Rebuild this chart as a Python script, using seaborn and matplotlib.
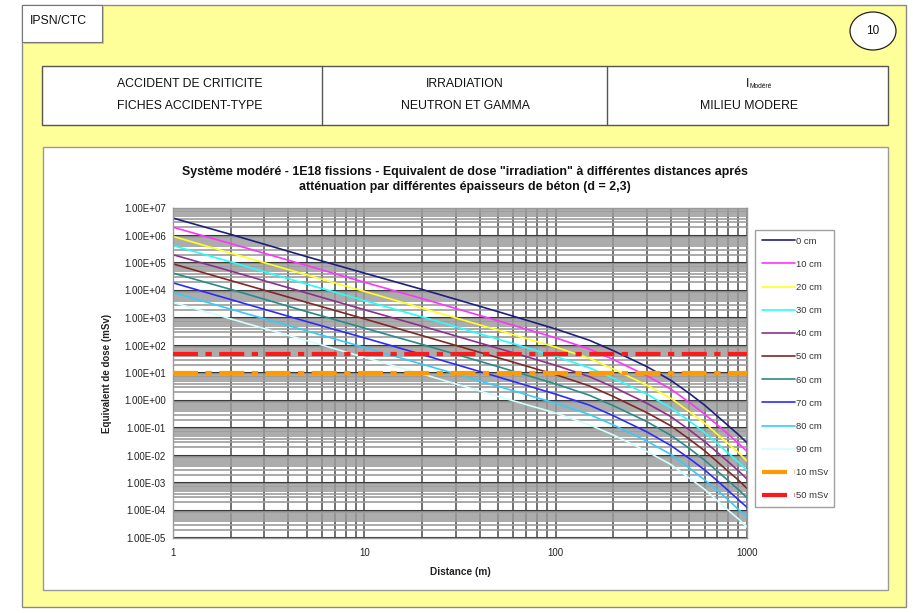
import numpy as np
import pandas as pd
import matplotlib
matplotlib.use("Agg")
import matplotlib.pyplot as plt
from matplotlib.patches import Rectangle, Ellipse
from matplotlib.ticker import LogLocator, FuncFormatter, NullFormatter
import seaborn as sns

# ---- data -----------------------------------------------------------------
distances = [1, 2, 5, 10, 20, 50, 100, 150, 200, 300, 400, 500, 600, 700, 800, 900, 1000]

dose_0cm = [4.3e6, 1.1e6, 1.7e5, 4.3e4, 1.1e4, 1.7e3, 4.0e2, 1.55e2, 6.5e1, 1.7e1, 5.4, 1.8,
            0.68, 0.27, 0.12, 0.058, 0.029]
dose_10cm = [2.0e6, 5.1e5, 8.1e4, 2.0e4, 5.1e3, 7.9e2, 1.9e2, 7.4e1, 3.1e1, 7.9, 2.6, 0.85,
             0.32, 0.13, 0.058, 0.028, 0.014]
dose_20cm = [9.3e5, 2.3e5, 3.7e4, 9.3e3, 2.3e3, 3.6e2, 8.7e1, 3.4e1, 1.4e1, 3.6, 1.2, 0.39,
             0.15, 0.059, 0.026, 0.013, 0.0063]
dose_30cm = [4.3e5, 1.1e5, 1.7e4, 4.3e3, 1.1e3, 1.7e2, 4.0e1, 1.55e1, 6.5, 1.7, 0.54, 0.18,
             0.068, 0.027, 0.012, 0.0058, 0.0029]
dose_40cm = [2.0e5, 5.1e4, 8.1e3, 2.0e3, 5.1e2, 7.9e1, 1.9e1, 7.4, 3.1, 0.79, 0.26, 0.085,
             0.032, 0.013, 0.0058, 0.0028, 0.0014]
dose_50cm = [9.3e4, 2.3e4, 3.7e3, 9.3e2, 2.3e2, 3.6e1, 8.7, 3.4, 1.4, 0.36, 0.12, 0.039,
             0.015, 0.0059, 0.0026, 0.0013, 6.3e-4]
dose_60cm = [4.3e4, 1.1e4, 1.7e3, 4.3e2, 1.1e2, 1.7e1, 4.0, 1.55, 0.65, 0.17, 0.054, 0.018,
             0.0068, 0.0027, 0.0012, 5.8e-4, 2.9e-4]
dose_70cm = [1.9e4, 4.7e3, 7.4e2, 1.9e2, 4.7e1, 7.2, 1.7, 0.68, 0.28, 0.072, 0.023, 0.0078,
             0.0030, 0.0012, 5.2e-4, 2.5e-4, 1.3e-4]
dose_80cm = [8.5e3, 2.1e3, 3.4e2, 8.5e1, 2.1e1, 3.3, 0.79, 0.31, 0.13, 0.033, 0.011, 0.0035,
             0.0013, 5.4e-4, 2.4e-4, 1.1e-4, 5.8e-5]
dose_90cm = [3.7e3, 9.3e2, 1.5e2, 3.7e1, 9.3, 1.4, 0.35, 0.13, 0.056, 0.014, 0.0047, 0.0015,
             5.9e-4, 2.3e-4, 1.0e-4, 5.0e-5, 2.5e-5]

thickness_labels = ["0 cm", "10 cm", "20 cm", "30 cm", "40 cm",
                    "50 cm", "60 cm", "70 cm", "80 cm", "90 cm"]
thickness_doses = [dose_0cm, dose_10cm, dose_20cm, dose_30cm, dose_40cm,
                   dose_50cm, dose_60cm, dose_70cm, dose_80cm, dose_90cm]

limit_labels = ["10 mSv", "50 mSv"]
limit_values = [10, 50]

y_ticks = [1e-5, 1e-4, 1e-3, 1e-2, 1e-1, 1e0, 1e1, 1e2, 1e3, 1e4, 1e5, 1e6, 1e7]
x_ticks = [1, 10, 100, 1000]

# ---- styling ---------------------------------------------------------------
line_colors = ["#1f1f80", "#ff33ff", "#ffff22", "#22ffff", "#8e2f8e",
               "#832626", "#2a8a8a", "#2b2bff", "#33ccff", "#d0ffff"]
limit_colors = ["#ff9a00", "#ff1a1a"]

sns.set_style("white")
plt.rcParams["font.family"] = ["Liberation Sans", "DejaVu Sans"]

W, H = 917, 613
fig = plt.figure(figsize=(W / 100, H / 100), dpi=100)
fig.patch.set_facecolor("white")

# page layout drawn in pixel coordinates
bg = fig.add_axes([0, 0, 1, 1])
bg.set_xlim(0, W)
bg.set_ylim(H, 0)
bg.axis("off")

bg.add_patch(Rectangle((22, 5), 884, 602, facecolor="#ffff99", edgecolor="#8a8a8a", lw=1))
bg.add_patch(Rectangle((24, 7), 80, 37, facecolor="#c8c8a0", edgecolor="none"))
bg.add_patch(Rectangle((22, 5), 80, 37, facecolor="white", edgecolor="#777777", lw=0.8))
bg.text(30, 21, "IPSN/CTC", fontsize=8.8, va="center", ha="left", color="#111111")

bg.add_patch(Ellipse((873, 31), 46, 38, facecolor="white", edgecolor="#222222", lw=0.9))
bg.text(873, 31, "10", fontsize=8.5, ha="center", va="center", color="#111111")

# header table
bg.add_patch(Rectangle((42, 66), 846, 59, facecolor="white", edgecolor="#555555", lw=1))
for xd in (322, 607):
    bg.plot([xd, xd], [66, 125], color="#555555", lw=1)
hdr_kw = dict(fontsize=8.8, ha="center", va="center", color="#111111")
bg.text(190, 84, "ACCIDENT DE CRITICITE", **hdr_kw)
bg.text(190, 106, "FICHES ACCIDENT-TYPE", **hdr_kw)
bg.text(465, 84, "IRRADIATION", **hdr_kw)
bg.text(465, 106, "NEUTRON ET GAMMA", **hdr_kw)
bg.text(749, 84, "I", fontsize=8.8, ha="right", va="center", color="#111111")
bg.text(749, 87, "Modéré", fontsize=4.8, ha="left", va="center", color="#111111")
bg.text(749, 106, "MILIEU MODERE", **hdr_kw)

# chart frame
bg.add_patch(Rectangle((43, 147), 845, 443, facecolor="white", edgecolor="#9a9a9a", lw=1))

# ---- chart -----------------------------------------------------------------
ax = fig.add_axes([173 / W, 1 - 538 / H, (747 - 173) / W, (538 - 208) / H])
ax.set_facecolor("white")

for lab, vals, col in zip(thickness_labels, thickness_doses, line_colors):
    sns.lineplot(x=distances, y=vals, color=col, linewidth=1.2, label=lab, ax=ax)

for lab, val, col in zip(limit_labels, limit_values, limit_colors):
    ax.axhline(val, color=col, linewidth=3, dashes=(6, 1.8, 1.5, 1.8), label=lab, zorder=5)

ax.set_xscale("log")
ax.set_yscale("log")
ax.set_xlim(1, 1000)
ax.set_ylim(1e-5, 1e7)

ax.xaxis.set_minor_locator(LogLocator(base=10, subs=np.arange(2, 10), numticks=50))
ax.yaxis.set_minor_locator(LogLocator(base=10, subs=np.arange(2, 10), numticks=200))
ax.set_xticks(x_ticks)
ax.set_yticks(y_ticks)
ax.xaxis.set_major_formatter(FuncFormatter(lambda v, p: f"{v:g}"))
ax.yaxis.set_major_formatter(FuncFormatter(lambda v, p: f"{v:.2E}"))
ax.xaxis.set_minor_formatter(NullFormatter())
ax.yaxis.set_minor_formatter(NullFormatter())
ax.tick_params(which="both", length=0, labelsize=7.0, colors="#222222")
ax.tick_params(axis="x", pad=7)
ax.tick_params(axis="y", pad=5)

ax.set_axisbelow(True)
ax.grid(which="major", axis="y", color="#3a3a3a", linewidth=1.5)
ax.grid(which="minor", axis="y", color="#9c9c9c", linewidth=1.2)
ax.grid(which="both", axis="x", color="#666666", linewidth=1.3)
for s in ax.spines.values():
    s.set_color("#9a9a9a")
    s.set_linewidth(1)

ax.set_xlabel("Distance (m)", fontsize=7.3, fontweight="bold", labelpad=7, color="#222222")
ax.set_ylabel("Equivalent de dose (mSv)", fontsize=7.0, fontweight="bold", labelpad=9,
              color="#222222")

fig.text(465 / W, 1 - 179.5 / H,
         "Système modéré - 1E18 fissions - Equivalent de dose \"irradiation\" à différentes distances aprés\n"
         "atténuation par différentes épaisseurs de béton (d = 2,3)",
         ha="center", va="center", fontsize=8.9, fontweight="bold", color="#111111",
         linespacing=1.25)

handles, labels = ax.get_legend_handles_labels()
leg = ax.legend(handles, labels, loc="upper left",
                bbox_to_anchor=(755 / W, 1 - 230 / H), bbox_transform=fig.transFigure,
                borderaxespad=0, fontsize=6.8, frameon=True, fancybox=False,
                edgecolor="#888888", handlelength=3.5, handletextpad=0.1,
                labelspacing=1.5, borderpad=0.7)
leg.get_frame().set_linewidth(1)
for t in leg.get_texts():
    t.set_color("#333333")

fig.savefig("out.png", dpi=100, facecolor=fig.get_facecolor())
